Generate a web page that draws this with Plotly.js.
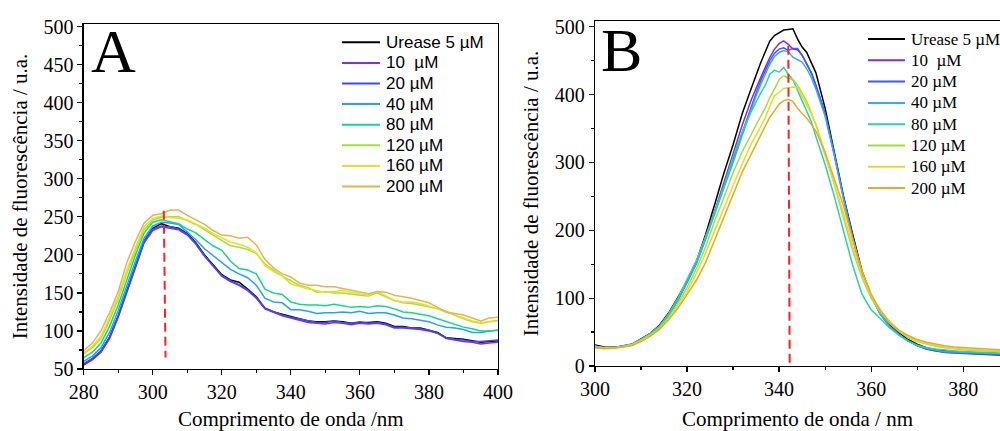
<!DOCTYPE html>
<html>
<head>
<meta charset="utf-8">
<script src="https://cdn.plot.ly/plotly-3.0.1.min.js"></script>
<style>html,body{margin:0;padding:0;background:#fff;}#chart{width:1000px;height:431px;}</style>
</head>
<body>
<div id="chart"></div>
<script>
// ---------- Panel A data ----------
const wlA = [280,282.5,285,287.5,290,292.5,295,297.5,300,302.5,305,307.5,310,312.5,315,317.5,320,322.5,325,327.5,330,332.5,335,337.5,340,342.5,345,347.5,350,352.5,355,357.5,360,362.5,365,367.5,370,372.5,375,377.5,380,382.5,385,387.5,390,392.5,395,397.5,400];
const a_urease = [56,63,73,92,120,153,185,218,235,241,237,235,228,216,200,187,174,167,164,155,145,130,125,122,119,117,113,112,112,113,112,110,111,111,112,110,106,106,104,104,101,98,91,90,89,87,85,86,87];
const a_10  = [55,62,72,90,118,151,183,216,232,237,235,233,226,214,198,185,172,165,160,153,143,129,124,120,117,114,111,110,109,111,110,108,110,109,110,108,104,104,103,102,100,97,90,88,86,85,83,84,85];
const a_20  = [57,64,74,92,120,153,186,218,234,238,237,234,227,215,199,186,173,166,161,154,144,130,125,121,118,116,113,111,111,113,111,110,112,110,111,109,105,105,104,103,101,97,91,89,88,86,86,87,88];
const a_40  = [60,67,78,98,127,160,192,222,238,243,242,240,230,220,208,199,189,181,175,170,160,143,138,137,128,128,126,123,124,124,125,124,126,123,124,124,121,117,116,114,112,108,105,104,102,98,98,100,101];
const a_80  = [65,72,84,106,134,168,200,229,243,246,244,241,234,229,220,212,206,192,182,180,175,155,150,148,138,135,134,134,133,135,133,131,132,131,133,132,129,125,124,122,120,116,112,108,105,103,100,100,101];
const a_120 = [70,78,90,114,142,176,206,233,246,249,250,250,245,240,233,226,220,212,210,207,202,188,180,172,166,160,157,151,152,150,150,148,147,146,150,145,140,137,136,134,132,129,125,120,116,112,110,112,114];
const a_160 = [71,80,93,118,146,180,210,237,248,251,249,248,246,241,235,228,222,217,214,210,203,186,178,172,162,158,155,153,151,152,153,151,149,147,152,146,140,138,138,136,133,130,126,121,117,113,111,112,113];
const a_200 = [74,84,100,124,152,190,218,242,252,254,259,259,252,246,240,232,226,225,222,223,213,194,183,175,171,163,160,160,158,158,156,154,152,149,152,151,147,145,143,140,137,131,125,123,121,117,113,117,118];
const peakA_x = [303.2, 303.7];
const peakA_y = [258, 65];

// ---------- Panel B data ----------
const wlB = [300,302,304,306,308,310,312,314,316,318,320,322,324,326,328,330,332,334,335,336,337,338,339,340,341,342,343,344,345,346,347,348,350,352,354,356,358,360,362,364,366,368,370,372,374,376,378,380,382,384,386,388];
const b_urease = [31,28,27.5,29,32,40,48,60,78,101,125,153,193,238,284,326,372,410,430,447,463,479,487,491,495,496,497,482,470,462,448,432,380,315,250,194,140,104,77,60,49,39,32,27,24,22.5,21.5,20,19,18,17,16.5];
const b_10  = [29,27,27,29,32,39,47,58,75,97,123,152,189,228,270,312,355,393,410,425,440,455,467,475,479,474,467,466,458,446,432,413,372,312,248,190,137,103,77,59,47,37,30,25,22,20,19,18.5,18,17,16.5,16];
const b_20  = [29,27,27,29,32,39,47,58,75,97,123,151,187,225,266,305,345,385,402,420,436,450,461,467,469,465,468,468,458,446,432,414,372,312,248,190,137,103,77,59,47,37,30,25,22,20.5,19.5,19,18.5,18,17.5,17];
const b_40  = [29,27,27,29,32,39,47,58,75,97,123,150,186,223,262,300,340,380,398,415,430,445,456,462,465,463,455,452,448,438,425,408,368,310,246,188,138,103,76,58,46,37,30,26,23,21,20.5,20,19.5,19,18.5,18];
const b_80  = [29,27,27,29,32,39,48,59,77,100,127,155,190,228,265,308,345,376,390,402,414,430,436,433,440,430,422,407,392,377,360,338,297,250,200,148,106,83,70,56,46,37,31,27,25,23,22,21.5,21,20,19.5,19];
const b_120 = [28,26.5,27,28.5,31.5,38,46,56,72,92,116,143,175,214,248,285,316,343,355,368,380,396,408,422,428,424,422,414,402,390,373,356,313,268,218,170,130,100,79,63,51,42,36,32,29,27,25,24,23,22.5,22,21.5];
const b_160 = [27,26,26.5,28,31,37,45,54,69,88,110,136,166,200,232,266,298,328,340,352,366,383,398,403,409,410,411,410,398,386,372,356,310,268,225,176,133,104,82,66,53,44,37,33,30,28,26,25,24,23.5,23,22.5];
const b_200 = [27,25.5,26,27.5,30,36,44,54,68,85,105,126,152,185,218,252,286,313,326,340,352,367,376,386,391,393,390,380,372,365,356,346,315,276,236,186,140,106,82,64,53,45,39,35,32,30,28,27,26,25,24.5,24];
const peakB_x = [342.0, 342.3];
const peakB_y = [472, 2];

const names = ['Urease 5 µM','10 \u00a0µM','20 µM','40 µM','80 µM','120 µM','160 µM','200 µM'];
const colorsA = ['#000000','#8a2be2','#3b4cf0','#2aa0f0','#10d890','#a2e040','#e8e020','#e6b44a'];
const colorsB = ['#000000','#7b2cf0','#3e5cf5','#36aaf5','#2ad69a','#a8dc3a','#ead82a','#e8a830'];
const seriesA = [a_urease,a_10,a_20,a_40,a_80,a_120,a_160,a_200];
const seriesB = [b_urease,b_10,b_20,b_40,b_80,b_120,b_160,b_200];

const traces = [];
seriesA.forEach((s,i)=>traces.push({x:wlA,y:s,type:'scatter',mode:'lines',name:names[i],showlegend:false,
  line:{color:colorsA[i],width:1.5},xaxis:'x',yaxis:'y'}));
traces.push({x:peakA_x,y:peakA_y,type:'scatter',mode:'lines',showlegend:false,
  line:{color:'#ff2020',width:2,dash:'9px,5px'},xaxis:'x',yaxis:'y'});
seriesB.forEach((s,i)=>traces.push({x:wlB,y:s,type:'scatter',mode:'lines',name:names[i],showlegend:false,
  line:{color:colorsB[i],width:1.5},xaxis:'x2',yaxis:'y2'}));
traces.push({x:peakB_x,y:peakB_y,type:'scatter',mode:'lines',showlegend:false,
  line:{color:'#ff2020',width:2,dash:'9px,5px'},xaxis:'x2',yaxis:'y2'});

const serif = '"Liberation Serif", "Times New Roman", serif';
const sans = '"Liberation Sans", Arial, sans-serif';
const tickFont = {family:serif,size:20,color:'#000'};
const titleFont = {family:serif,size:21,color:'#000'};
const axCommon = {showgrid:false,zeroline:false,showline:true,linecolor:'#000',linewidth:1.3,
  ticks:'outside',ticklen:5,tickwidth:1.2,tickcolor:'#000',tickfont:tickFont};

// custom legends (paper coordinates)
const shapes = [];
const annotations = [];
const H = 431, W = 1000;
names.forEach((n,i)=>{
  const yA = 1 - (42.3 + i*20.6)/H;
  shapes.push({type:'line',xref:'paper',yref:'paper',x0:342/W,x1:380/W,y0:yA,y1:yA,line:{color:colorsA[i],width:2}});
  annotations.push({text:n,xref:'paper',yref:'paper',x:384/W,y:yA,xanchor:'left',yanchor:'middle',showarrow:false,
    font:{family:sans,size:17,color:'#000'}});
  const yB = 1 - (39 + i*21.3)/H;
  shapes.push({type:'line',xref:'paper',yref:'paper',x0:868/W,x1:905/W,y0:yB,y1:yB,line:{color:colorsB[i],width:2}});
  annotations.push({text:n,xref:'paper',yref:'paper',x:909/W,y:yB,xanchor:'left',yanchor:'middle',showarrow:false,
    font:{family:serif,size:17,color:'#000'}});
});
annotations.push({text:'A',xref:'paper',yref:'paper',x:0.089,y:1-51/H,xanchor:'left',yanchor:'middle',showarrow:false,
  font:{family:serif,size:62,color:'#000'}});
annotations.push({text:'B',xref:'paper',yref:'paper',x:0.599,y:1-50/H,xanchor:'left',yanchor:'middle',showarrow:false,
  font:{family:serif,size:62,color:'#000'}});

const layout = {
  width:1000,height:431,margin:{l:0,r:0,t:0,b:0},
  paper_bgcolor:'#fff',plot_bgcolor:'#fff',showlegend:false,
  xaxis:Object.assign({},axCommon,{domain:[0.0837,0.498],range:[280,400],dtick:20,tick0:280,mirror:true,
    minor:{ticks:'outside',ticklen:3,dtick:10,tickcolor:'#000'},
    title:{text:'Comprimento de onda /nm\u00a0\u00a0\u00a0\u00a0',font:titleFont,standoff:13},anchor:'y'}),
  yaxis:Object.assign({},axCommon,{domain:[0.1439,0.9443],range:[50,503.5],dtick:50,tick0:50,mirror:true,
    minor:{ticks:'outside',ticklen:3,dtick:25,tickcolor:'#000'},
    title:{text:'Intensidade de fluorescência / u.a.',font:titleFont,standoff:10},anchor:'x'}),
  xaxis2:Object.assign({},axCommon,{domain:[0.595,1.0],range:[300,388],dtick:20,tick0:300,mirror:true,
    minor:{ticks:'outside',ticklen:3,dtick:10,tickcolor:'#000'},
    title:{text:'Comprimento de onda / nm',font:titleFont,standoff:18},anchor:'y2'}),
  yaxis2:Object.assign({},axCommon,{domain:[0.1508,0.9513],range:[0,508.4],dtick:100,tick0:0,mirror:false,
    minor:{ticks:'outside',ticklen:3,dtick:50,tickcolor:'#000'},
    title:{text:'Intensidade de fluorescência / u.a.',font:titleFont,standoff:10},anchor:'x2'}),
  shapes:shapes,
  annotations:annotations
};

Plotly.newPlot('chart',traces,layout,{displayModeBar:false,staticPlot:true});
</script>
</body>
</html>
